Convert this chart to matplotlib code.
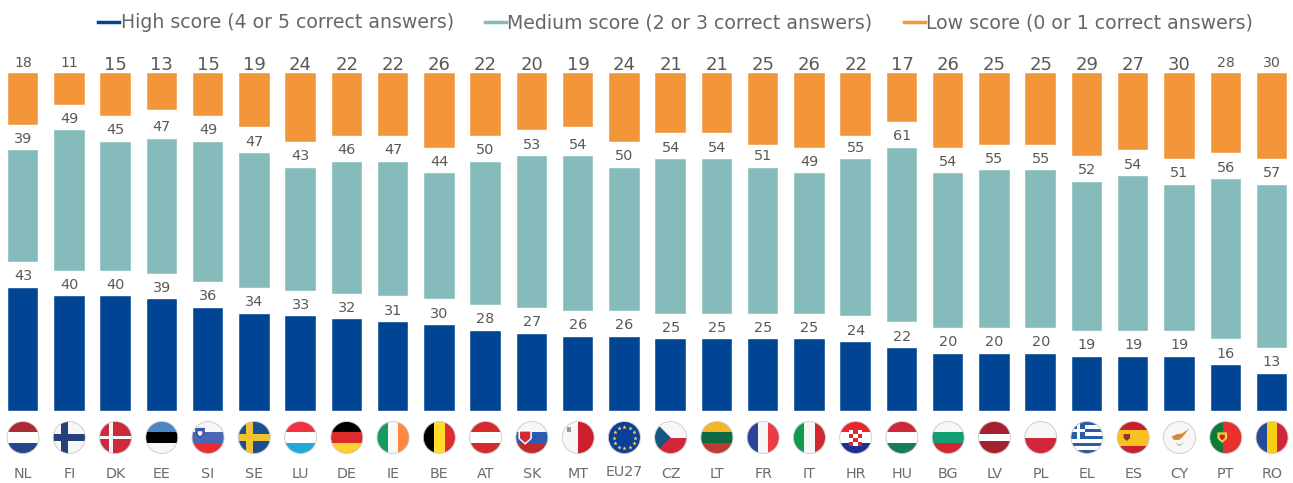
import numpy as np
import matplotlib
matplotlib.use("Agg")
import matplotlib.pyplot as plt
from matplotlib.lines import Line2D
from matplotlib.patches import Ellipse, Rectangle, Polygon

countries = ["NL","FI","DK","EE","SI","SE","LU","DE","IE","BE","AT","SK","MT","EU27",
             "CZ","LT","FR","IT","HR","HU","BG","LV","PL","EL","ES","CY","PT","RO"]
high = [43,40,40,39,36,34,33,32,31,30,28,27,26,26,25,25,25,25,24,22,20,20,20,19,19,19,16,13]
medium = [39,49,45,47,49,47,43,46,47,44,50,53,54,50,54,54,51,49,55,61,54,55,55,52,54,51,56,57]
low = [18,11,15,13,15,19,24,22,22,26,22,20,19,24,21,21,25,26,22,17,26,25,25,29,27,30,28,30]
small_low_labels = ["NL", "FI", "PT", "RO"]
legend_labels = ["High score (4 or 5 correct answers)",
                 "Medium score (2 or 3 correct answers)",
                 "Low score (0 or 1 correct answers)"]

BLUE, TEAL, ORANGE, GREY = "#004494", "#85BBBB", "#F39639", "#595959"
GAP = 9          # empty band between the stacked segments, in value units
TOP = 100 + 2 * GAP

W, H = 1293, 483
X0, DX = 23, 46.26      # pixel centre of first bar, bar spacing
Y0, DY = 411, 2.864     # pixel baseline, pixels per unit
fig = plt.figure(figsize=(W / 100, H / 100), dpi=100)
ax = fig.add_axes([0, 0, 1, 1])
ax.set_xlim(-X0 / DX, (W - X0) / DX)
ax.set_ylim(-(H - Y0) / DY, Y0 / DY)
ax.axis("off")

x = np.arange(len(countries))
high_a, med_a, low_a = map(np.array, (high, medium, low))
BW = 30.5 / DX
edge = dict(edgecolor="white", linewidth=0.3)
b1 = ax.bar(x, high_a, BW, color=BLUE, **edge)
b2 = ax.bar(x, med_a, BW, bottom=high_a + GAP, color=TEAL, **edge)
b3 = ax.bar(x, low_a, BW, bottom=TOP - low_a, color=ORANGE, **edge)

for cont, vals in ((b1, high), (b2, medium)):
    ax.bar_label(cont, labels=[str(v) for v in vals], padding=3.2, fontsize=10.4, color=GREY)
texts = ax.bar_label(b3, labels=[str(v) for v in low], padding=-0.5, fontsize=13, color=GREY)
for t, c in zip(texts, countries):
    if c in small_low_labels:
        t.set_fontsize(10.2)
        t.xyann = (0, 2)

for i, c in enumerate(countries):
    ax.text(i, (Y0 - (472 if c == "EU27" else 474)) / DY, c, ha="center", va="center",
            fontsize=10.3, color="#6b6b6b")

# ---- flags ----
R, YC = 16.0, (Y0 - 437.5) / DY

def flag(i, shapes):
    rx, ry = R / DX, R / DY
    clip = Ellipse((i, YC), 2 * rx, 2 * ry, facecolor="white", edgecolor="none", zorder=2)
    ax.add_patch(clip)
    for kind, col, pts in shapes:
        if kind == "r":
            u0, v0, u1, v1 = pts
            p = Rectangle((i + u0 * rx, YC + v0 * ry), (u1 - u0) * rx, (v1 - v0) * ry,
                          facecolor=col, edgecolor="none", zorder=3)
        else:
            p = Polygon([(i + u * rx, YC + v * ry) for u, v in pts], closed=True,
                        facecolor=col, edgecolor="none", zorder=3)
        ax.add_patch(p)
        p.set_clip_path(clip)
    ax.add_patch(Ellipse((i, YC), 2 * rx, 2 * ry, facecolor="none", edgecolor="#c8c8c8",
                         linewidth=0.6, zorder=4))

def hs(*cols, weights=None):
    w = weights or [1] * len(cols)
    e = 1 - 2 * np.cumsum([0] + list(w)) / sum(w)
    return [("r", c, (-1, e[k + 1], 1, e[k])) for k, c in enumerate(cols)]

def vs(*cols, weights=None):
    w = weights or [1] * len(cols)
    e = -1 + 2 * np.cumsum([0] + list(w)) / sum(w)
    return [("r", c, (e[k], -1, e[k + 1], 1)) for k, c in enumerate(cols)]

def cross(bg, fg, cx=-0.3, t=0.2):
    return [("r", bg, (-1, -1, 1, 1)), ("r", fg, (cx - t, -1, cx + t, 1)), ("r", fg, (-1, -t, 1, t))]

def shield(cx, cy, s, col):
    return [("p", col, [(cx - s, cy + s), (cx + s, cy + s), (cx + s, cy - 0.3 * s),
                        (cx, cy - 1.2 * s), (cx - s, cy - 0.3 * s)])]

flags = {
    "NL": hs("#AE2A35", "#FFFFFF", "#24478C"),
    "FI": cross("#F7F7F7", "#25407A"),
    "DK": cross("#CF2A3C", "#F7F7F7", t=0.12),
    "EE": hs("#4A85C4", "#000000", "#F7F7F7"),
    "SI": hs("#F7F7F7", "#4A66B5", "#EA2B30") + shield(-0.5, 0.3, 0.3, "#3A56A5") + shield(-0.5, 0.25, 0.14, "#FFFFFF"),
    "SE": cross("#1B4F8F", "#F2C230"),
    "LU": hs("#EF3340", "#FFFFFF", "#22A7DC"),
    "DE": hs("#000000", "#DD2A2A", "#FFCE30"),
    "IE": vs("#169B62", "#F7F7F7", "#FF883E"),
    "BE": vs("#000000", "#FFDD28", "#E22B32"),
    "AT": hs("#D8292F", "#FFFFFF", "#D8292F"),
    "SK": hs("#F7F7F7", "#2A5CB0", "#C4262E") + shield(-0.42, 0.05, 0.42, "#FFFFFF") + shield(-0.42, 0.05, 0.32, "#D22B36"),
    "MT": vs("#F7F7F7", "#CE202C") + [("r", "#999999", (-0.72, 0.35, -0.42, 0.65))],
    "EU27": [("r", "#0C3F97", (-1, -1, 1, 1))],
    "CZ": hs("#F7F7F7", "#D2273A") + [("p", "#16577F", [(-1, 1), (0, 0), (-1, -1)])],
    "LT": hs("#F5B52A", "#0D6A45", "#BE3A34"),
    "FR": vs("#2A4596", "#F7F7F7", "#EE3A45"),
    "IT": vs("#109A4B", "#F7F7F7", "#D2272F"),
    "HR": hs("#E8262C", "#FFFFFF", "#1B2F96") + [("r", "#D22B36", (-0.42, -0.55, 0.42, 0.45))]
          + [("r", "#FFFFFF", (-0.42 + 0.28 * a, 0.45 - 0.25 * (b + 1), -0.14 + 0.28 * a, 0.45 - 0.25 * b))
             for a in range(3) for b in range(4) if (a + b) % 2 == 0],
    "HU": hs("#CE2939", "#FFFFFF", "#137F56"),
    "BG": hs("#F7F7F7", "#12A072", "#D2272F"),
    "LV": hs("#A4212F", "#FFFFFF", "#A4212F", weights=[2, 1, 2]),
    "PL": hs("#F7F7F7", "#D2273A"),
    "EL": hs(*["#2A5DA8", "#FFFFFF"] * 4, "#2A5DA8") + [("r", "#2A5DA8", (-1, -0.1, -0.1, 1)),
          ("r", "#FFFFFF", (-0.65, -0.1, -0.45, 1)), ("r", "#FFFFFF", (-1, 0.35, -0.1, 0.55))],
    "ES": hs("#C8202E", "#F7C11E", "#C8202E", weights=[1, 2, 1]) + shield(-0.4, 0.02, 0.2, "#8A3A22"),
    "CY": [("r", "#F7F7F7", (-1, -1, 1, 1)),
           ("p", "#D88A3C", [(-0.5, 0.05), (-0.2, 0.2), (0.15, 0.25), (0.6, 0.55), (0.25, 0.1), (0, -0.15), (-0.35, -0.15)]),
           ("p", "#9DB98A", [(-0.3, -0.3), (0, -0.55), (0.3, -0.3), (0, -0.45)])],
    "PT": vs("#0E7A3A", "#E8302F", weights=[2, 3]) + shield(-0.22, 0.02, 0.3, "#F4D03F") + shield(-0.22, 0.02, 0.16, "#C8202E"),
    "RO": vs("#254C9A", "#F5D10F", "#D2273A"),
}
for i, c in enumerate(countries):
    flag(i, flags[c])

i_eu = countries.index("EU27")
ang = np.deg2rad(np.arange(0, 360, 30))
ax.scatter(i_eu + 0.66 * R / DX * np.cos(ang), YC + 0.66 * R / DY * np.sin(ang),
           marker="*", s=11, color="#FFD83A", linewidths=0, zorder=5)

# ---- legend ----
handles = [Line2D([], [], color=c, lw=2.5) for c in (BLUE, TEAL, ORANGE)]
FS = 13.6
leg = fig.legend(handles, legend_labels, loc="center", bbox_to_anchor=(675.5 / W, 1 - 23 / H),
                 ncols=3, frameon=False, fontsize=FS, labelcolor="#666666",
                 handlelength=21 / (FS * 100 / 72), handletextpad=0.08,
                 columnspacing=1.65, borderpad=0)
fig.savefig("out.png", dpi=100)
